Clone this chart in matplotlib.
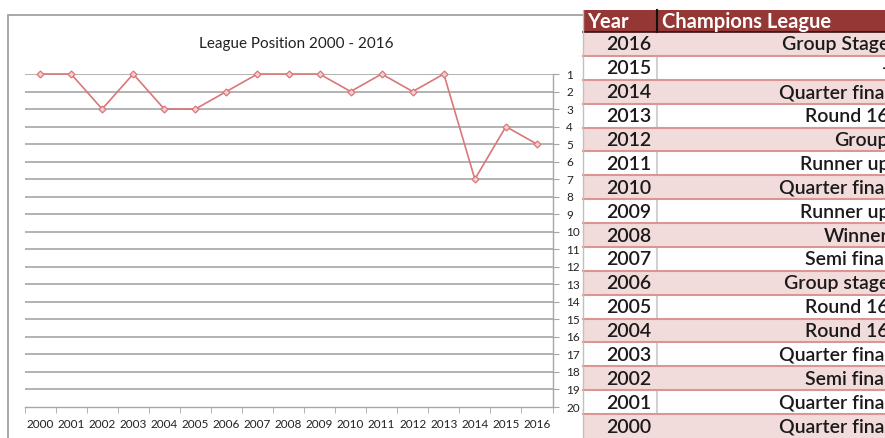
import matplotlib
matplotlib.use("Agg")
import matplotlib.pyplot as plt
import numpy as np
from matplotlib.patches import Rectangle
from matplotlib.lines import Line2D

years = [2000, 2001, 2002, 2003, 2004, 2005, 2006, 2007, 2008,
         2009, 2010, 2011, 2012, 2013, 2014, 2015, 2016]
positions = [1, 1, 3, 1, 3, 3, 2, 1, 1, 1, 2, 1, 2, 1, 7, 4, 5]

table_years = [2016, 2015, 2014, 2013, 2012, 2011, 2010, 2009, 2008,
               2007, 2006, 2005, 2004, 2003, 2002, 2001, 2000]
table_cl = ["Group Stage", "-", "Quarter final", "Round 16", "Group",
            "Runner up", "Quarter final", "Runner up", "Winner",
            "Semi final", "Group stage", "Round 16", "Round 16",
            "Quarter final", "Semi final", "Quarter final", "Quarter final"]

W, H = 885, 438
plt.rcParams['font.family'] = ['Lato', 'DejaVu Sans']
fig = plt.figure(figsize=(W / 100, H / 100), dpi=100)

def fx(px):
    return px / W

def fy(py):
    return 1 - py / H

# chart frame
fig.patches.append(Rectangle((fx(8), fy(445)), fx(600) - fx(8), fy(15) - fy(445),
                             transform=fig.transFigure, facecolor='none',
                             edgecolor='#9a9a9a', linewidth=1.2, zorder=-1))

ax_left, ax_right = 24.5, 552.5
ax_top, ax_bot = 74, 407
ax = fig.add_axes([fx(ax_left), fy(ax_bot), fx(ax_right) - fx(ax_left), fy(ax_top) - fy(ax_bot)])
ax.set_facecolor('none')
x = np.arange(len(years))
ax.set_xlim(-0.5, len(years) - 0.5)
ax.set_ylim(20, 1)
for v in range(1, 20):
    ax.axhline(v, color='#a6a6a6', linewidth=1.2, zorder=1)
ax.plot(x, positions, color='#d9777a', linewidth=1.2, marker='D', markersize=3.5,
        markerfacecolor='#f3d0d0', markeredgecolor='#d9777a', markeredgewidth=0.9,
        clip_on=False, zorder=3)
for s in ['top', 'left']:
    ax.spines[s].set_visible(False)
ax.spines['right'].set_color('#a6a6a6')
ax.spines['bottom'].set_color('#a6a6a6')
ax.spines['right'].set_linewidth(1.0)
ax.spines['bottom'].set_linewidth(1.0)
ax.yaxis.tick_right()
ax.set_yticks(range(1, 21))
ax.set_yticklabels([str(v) for v in range(1, 21)])
ax.tick_params(axis='y', length=4, color='#a6a6a6', labelsize=8.5, pad=6, labelcolor='#222222')
ax.set_xticks(x)
ax.set_xticklabels([str(y) for y in years])
ax.set_xticks(np.arange(-0.5, len(years), 1), minor=True)
ax.tick_params(axis='x', which='major', length=0, labelsize=8.5, pad=9, labelcolor='#222222')
ax.tick_params(axis='x', which='minor', length=4, color='#a6a6a6')

fig.text(fx(296), fy(44), "League Position 2000 - 2016", ha='center', va='center',
         fontsize=11, color='#222222')

# table
tx0, tsep, tx1 = 583, 657, 900
head_top, head_bot = 10, 32
row_h = (438 - head_bot) / len(table_years)
fig.patches.append(Rectangle((fx(tx0), fy(head_bot)), fx(tx1) - fx(tx0), fy(head_top) - fy(head_bot),
                             transform=fig.transFigure, facecolor='#953735', edgecolor='none', zorder=5))
fig.lines.append(Line2D([fx(tsep), fx(tsep)], [fy(head_top), fy(head_bot)], transform=fig.transFigure,
                        color='#111111', linewidth=1.5, zorder=6))
fig.lines.append(Line2D([fx(tx0), fx(tx1)], [fy(head_bot), fy(head_bot)], transform=fig.transFigure,
                        color='#3a1010', linewidth=1.2, zorder=6))
fig.text(fx(tx0 + 4), fy((head_top + head_bot) / 2 + 1), "Year", color='white', fontsize=14.5,
         fontweight='bold', ha='left', va='center', zorder=7)
fig.text(fx(tsep + 5), fy((head_top + head_bot) / 2 + 1), "Champions League", color='white', fontsize=14.5,
         fontweight='bold', ha='left', va='center', zorder=7)

for i, (yr, cl) in enumerate(zip(table_years, table_cl)):
    top = head_bot + i * row_h
    bot = top + row_h
    pink = (i % 2 == 0)
    fig.patches.append(Rectangle((fx(tx0), fy(bot)), fx(tx1) - fx(tx0), fy(top) - fy(bot),
                                 transform=fig.transFigure,
                                 facecolor='#f2dcdb' if pink else 'white', edgecolor='none', zorder=5))
    if not pink:
        fig.lines.append(Line2D([fx(tsep), fx(tsep)], [fy(top), fy(bot)], transform=fig.transFigure,
                                color='#c8c8c8', linewidth=1.2, zorder=6))
    if i > 0:
        fig.lines.append(Line2D([fx(tx0), fx(tx1)], [fy(top), fy(top)], transform=fig.transFigure,
                                color='#da9694', linewidth=1.5, zorder=6))
    cy = (top + bot) / 2 + 1
    fig.text(fx(651), fy(cy), str(yr), ha='right', va='center', fontsize=14,
             fontweight='semibold', color='#1a1a1a', zorder=7)
    fig.text(fx(889), fy(cy), cl, ha='right', va='center', fontsize=14,
             fontweight='semibold', color='#1a1a1a', zorder=7)

fig.lines.append(Line2D([fx(tx0), fx(tx0)], [fy(head_top), fy(438)], transform=fig.transFigure,
                        color='#c0c0c0', linewidth=1.0, zorder=6))

fig.savefig("out.png", dpi=100)
